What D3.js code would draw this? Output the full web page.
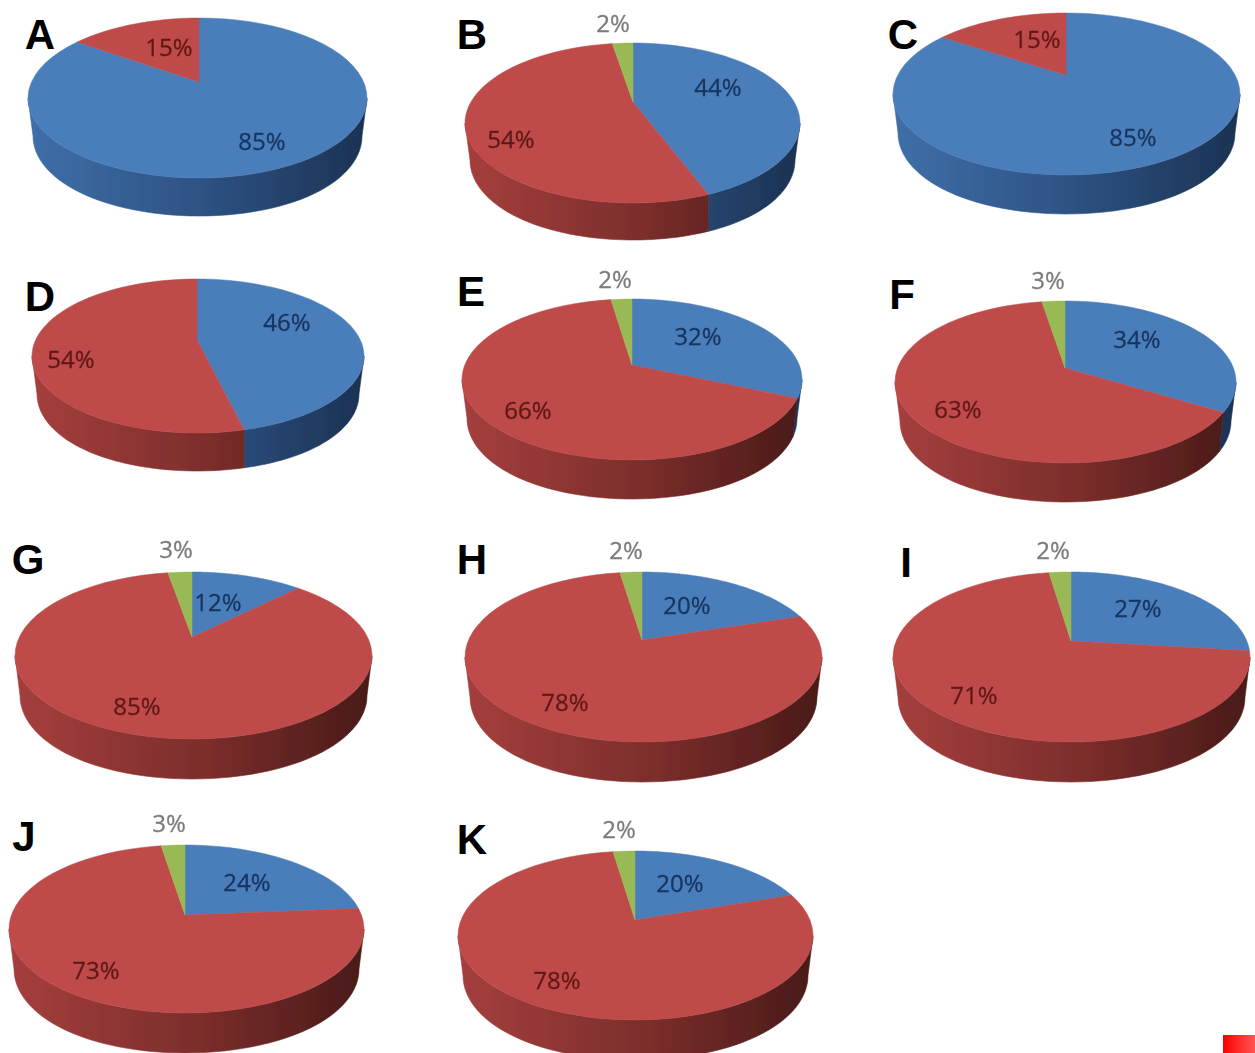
<!DOCTYPE html>
<html><head><meta charset="utf-8">
<script src="https://d3js.org/d3.v7.min.js"></script>
<style>html,body{margin:0;padding:0;background:#fff;overflow:hidden}svg{display:block}</style>
</head><body><svg id="c" width="1255" height="1053"></svg>
<script>
const panelLetters=["A","B","C","D","E","F","G","H","I","J","K"];
const blueValues =[85,44,85,46.4,31.7,33.6,12,20,27,24,20];
const redValues  =[15,54,15,54,66,63,85,78,71,73,78];
const greenValues=[0,2.4,0,0,2.4,2.6,2.6,2.4,2.4,2.6,2.4];
const seriesNames=["blue","red","green"];
const topColors={blue:"#4a7ebb",red:"#be4b48",green:"#98b954"};
const wallStops={blue:["#3f6fa9","#2c5080","#1b3252"],red:["#a53f3d","#7a2d2b","#491a18"],green:["#7d9a44","#607734","#445425"]};
const labelColors={blue:"#17345f",red:"#601816",green:"#7c7c7c"};
// [left, right, top, faceBottom, wallBottom, apexX, apexY]
const boxes=[[28,367,18,178,216,199,82],[465,800,43,203,240,633,102],[893,1240,13,175,214,1066,75],
[32,364,279,433,471,197,340],[462,802,299,460,499,632,365],[895,1236,301,463,502,1065,368],
[15,372,572,739,779,192,637],[465,822,572,742,782,642,640],[893,1250,572,742,782,1071,641],
[9,364,845,1013,1053,185,915],[458,813,851,1020,1060,635,920]];
const letterPos=[[40,34],[472,34],[903,34],[40,296],[471,291],[902,294],[28,559],[472,559],[906,562],[24,836],[472,839]];
// label centres per series (blue, red, green)
const labelPos=[[[262,141],[169,47],null],[[718,87],[511,139],[613,23]],[[1133,137],[1037,39],null],
[[287,322],[71,359],null],[[698,336],[528,410],[615,279]],[[1137,339],[958,409],[1048,280]],
[[218,602],[137,706],[176,549]],[[687,605],[565,702],[626,550]],[[1138,608],[974,695],[1053,550]],
[[247,882],[96,970],[169,823]],[[680,883],[557,980],[619,829]]];

const svg=d3.select("#c");
const defs=svg.append("defs");
const blur=defs.append("filter").attr("id","soft").attr("x","-5%").attr("y","-5%").attr("width","110%").attr("height","110%");
blur.append("feGaussianBlur").attr("stdDeviation",0.7);
const sq=defs.append("linearGradient").attr("id","sq");
sq.append("stop").attr("offset",0).attr("stop-color","#ff0000");
sq.append("stop").attr("offset",1).attr("stop-color","#ff5555");

const pie=d3.pie().sort(null).value(d=>d.v);
const line=d3.line().x(d=>d[0]).y(d=>d[1]);
const TAU=Math.PI*2, k=0.19, inset=5;

panelLetters.forEach((name,i)=>{
  const [l,r,t,fb,wb,ax,ay]=boxes[i];
  const cx=(l+r)/2, rx=(r-l)/2, depth=wb-fb;
  const A=1/Math.sqrt(1-k*k), B=1/(1-k*k), Yc=k/(1-k*k);
  const sx=d3.scaleLinear().domain([-A,A]).range([l,r]);
  const sy=d3.scaleLinear().domain([Yc-B,Yc+B]).range([t,fb]);
  // perspective projection of a rim point, angle clockwise from the top
  const topRim=th=>{
    const u=Math.sin(th), v=-Math.cos(th), w=1-k*v, X=u/w;
    return [sx(X)+(ax-cx)*(1-(X/A)*(X/A)), sy(v/w)];
  };
  const botRim=th=>{
    const p=topRim(th), f=Math.abs(p[0]-cx)/rx;
    return [p[0]-Math.sign(p[0]-cx)*inset*f*f*f, p[1]+depth];
  };
  const rows=seriesNames.map((s,j)=>({s,v:[blueValues,redValues,greenValues][j][i],pos:labelPos[i][j]}));
  const arcs=pie(rows).filter(a=>a.data.v>0);
  const g=svg.append("g").attr("filter","url(#soft)");

  seriesNames.forEach(s=>{
    const gr=defs.append("linearGradient").attr("id",`w${i}${s}`).attr("gradientUnits","userSpaceOnUse")
      .attr("x1",l).attr("x2",r).attr("y1",0).attr("y2",0);
    wallStops[s].forEach((c,n)=>gr.append("stop").attr("offset",[0,.55,1][n]).attr("stop-color",c));
  });

  const frontA=Math.PI-Math.acos(k), frontB=TAU-frontA; // rim range where the wall faces the viewer
  const samples=(a,b)=>d3.range(0,61).map(n=>a+(b-a)*n/60);

  arcs.forEach(a=>{
    const s=Math.max(a.startAngle,frontA), e=Math.min(a.endAngle,frontB);
    if(e<=s) return;
    const th=samples(s,e);
    const pts=th.map(topRim).concat(th.slice().reverse().map(botRim));
    g.append("path").attr("d",line(pts)+"Z").attr("fill",`url(#w${i}${a.data.s})`)
      .attr("stroke",`url(#w${i}${a.data.s})`).attr("stroke-width",0.6);
  });
  arcs.forEach(a=>{
    const pts=[[ax,ay]].concat(samples(a.startAngle,a.endAngle).map(topRim));
    g.append("path").attr("d",line(pts)+"Z").attr("fill",topColors[a.data.s])
      .attr("stroke",topColors[a.data.s]).attr("stroke-width",0.5);
  });
  const lg=svg.append("g").attr("filter","url(#soft)");
  arcs.forEach(a=>{
    lg.append("text").attr("x",a.data.pos[0]).attr("y",a.data.pos[1]).attr("dy","0.36em")
      .attr("text-anchor","middle").attr("font-family","'Open Sans',sans-serif").attr("font-size",24)
      .attr("fill",labelColors[a.data.s]).attr("stroke",labelColors[a.data.s]).attr("stroke-width",0.3)
      .text(Math.round(a.data.v)+"%");
  });
  svg.append("text").attr("x",letterPos[i][0]).attr("y",letterPos[i][1]).attr("dy","0.36em")
    .attr("text-anchor","middle").attr("font-family","'Liberation Sans',Arial,sans-serif")
    .attr("font-weight","bold").attr("font-size",42).attr("fill","#000").text(name);
});
svg.append("rect").attr("x",1223).attr("y",1035).attr("width",32).attr("height",18).attr("fill","url(#sq)");
</script></body></html>
